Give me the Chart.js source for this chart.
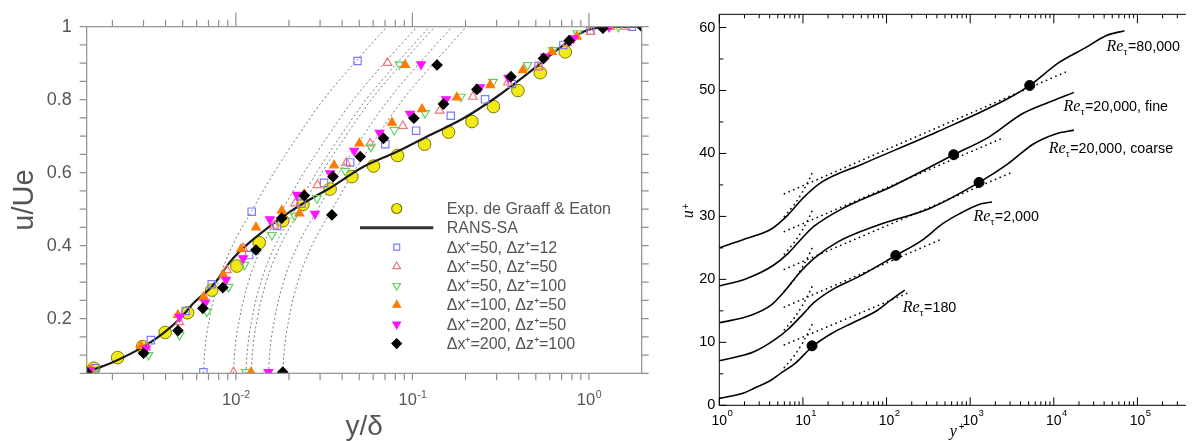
<!DOCTYPE html>
<html>
<head>
<meta charset="utf-8">
<script src="https://cdn.jsdelivr.net/npm/chart.js@4.4.1/dist/chart.umd.min.js"></script>
<style>
  html, body { margin: 0; padding: 0; background: #fff; }
  #wrap { position: relative; width: 1192px; height: 441px; overflow: hidden; }
  #left { position: absolute; left: 0; top: 0; }
  #right { position: absolute; left: 650px; top: 0; }
</style>
</head>
<body>
<div id="wrap">
  <canvas id="left" width="655" height="441"></canvas>
  <canvas id="right" width="542" height="441"></canvas>
</div>
<script>
// ---------- left panel: u/Ue against y/delta ----------
const expX = [0.00157, 0.00214, 0.00296, 0.00398, 0.00533, 0.00731, 0.01013, 0.01356, 0.01845, 0.024, 0.0342, 0.0454, 0.0602, 0.0824, 0.1172, 0.1603, 0.2174, 0.288, 0.396, 0.53, 0.734];
const expU = [0.064, 0.093, 0.123, 0.162, 0.216, 0.278, 0.344, 0.408, 0.468, 0.513, 0.555, 0.589, 0.618, 0.647, 0.678, 0.711, 0.740, 0.781, 0.825, 0.874, 0.931];

const ransX = [0.00143, 0.00198, 0.003, 0.00389, 0.00483, 0.00575, 0.00746, 0.00929, 0.01153, 0.015, 0.0203, 0.0275, 0.0342, 0.0528, 0.0817, 0.126, 0.195, 0.301, 0.465, 0.718, 0.931, 1.11, 2.0];
const ransU = [0.054, 0.079, 0.123, 0.16, 0.2, 0.242, 0.292, 0.356, 0.402, 0.447, 0.493, 0.532, 0.558, 0.616, 0.657, 0.703, 0.749, 0.808, 0.877, 0.95, 0.986, 0.997, 1.0];

const blueX = [0.0016, 0.0033, 0.0052, 0.0073, 0.0119, 0.0171, 0.0235, 0.0316, 0.0444, 0.0702, 0.105, 0.165, 0.258, 0.366, 0.518, 0.717, 1.02, 1.75, 0.00655, 0.0123, 0.0489];
const blueU = [0.064, 0.141, 0.221, 0.294, 0.374, 0.454, 0.515, 0.572, 0.628, 0.678, 0.715, 0.756, 0.801, 0.843, 0.892, 0.95, 0.989, 1.0, 0.053, 0.493, 0.906];

const redX = [0.00152, 0.0031, 0.0048, 0.0066, 0.0089, 0.011, 0.0165, 0.0217, 0.029, 0.0422, 0.0577, 0.0883, 0.1426, 0.22, 0.3475, 0.52, 0.75, 1.02, 1.61, 0.0097, 0.0182, 0.0723];
const redU = [0.06, 0.12, 0.19, 0.26, 0.333, 0.393, 0.455, 0.516, 0.566, 0.627, 0.68, 0.728, 0.77, 0.808, 0.847, 0.89, 0.955, 0.986, 1.0, 0.053, 0.48, 0.901];

const greenX = [0.00155, 0.0032, 0.0048, 0.00686, 0.0091, 0.0112, 0.016, 0.0288, 0.0416, 0.0582, 0.0789, 0.118, 0.188, 0.286, 0.449, 0.625, 0.861, 1.47, 0.0114, 0.0215, 0.0845];
const greenU = [0.05, 0.1, 0.155, 0.219, 0.287, 0.347, 0.429, 0.53, 0.605, 0.671, 0.717, 0.763, 0.808, 0.849, 0.895, 0.936, 0.982, 1.0, 0.053, 0.482, 0.897];

const orangeX = [0.00148, 0.0029, 0.0047, 0.00655, 0.0085, 0.0107, 0.013, 0.0182, 0.0244, 0.036, 0.0501, 0.0766, 0.1133, 0.1786, 0.276, 0.423, 0.617, 0.855, 1.32, 0.0122, 0.0229, 0.091];
const orangeU = [0.058, 0.125, 0.21, 0.258, 0.319, 0.39, 0.45, 0.496, 0.541, 0.62, 0.68, 0.737, 0.774, 0.806, 0.84, 0.881, 0.931, 0.973, 1.0, 0.053, 0.488, 0.895];

const magentaX = [0.00149, 0.0031, 0.0048, 0.0067, 0.0088, 0.011, 0.0156, 0.0222, 0.0342, 0.0468, 0.0652, 0.097, 0.155, 0.242, 0.35, 0.565, 0.818, 1.3, 0.0153, 0.0281, 0.112];
const magentaU = [0.059, 0.118, 0.205, 0.243, 0.306, 0.365, 0.472, 0.539, 0.598, 0.66, 0.709, 0.761, 0.801, 0.834, 0.86, 0.918, 0.968, 1.0, 0.053, 0.487, 0.897];

const blackX = [0.00143, 0.003, 0.0047, 0.0065, 0.00844, 0.013, 0.0182, 0.0244, 0.0355, 0.0506, 0.0686, 0.102, 0.15, 0.232, 0.362, 0.553, 0.773, 1.2, 2.0, 0.01845, 0.035, 0.138];
const blackU = [0.053, 0.105, 0.167, 0.228, 0.285, 0.388, 0.475, 0.537, 0.589, 0.644, 0.694, 0.749, 0.788, 0.828, 0.863, 0.913, 0.962, 0.996, 1.0, 0.053, 0.484, 0.895];

// dotted guide curves, one per grid, read at these u/Ue levels
const guideU = [0.05, 0.1, 0.2, 0.3, 0.4, 0.5, 0.6, 0.7, 0.8, 0.9, 1.0];
const guideBlue = [0.00655, 0.00664, 0.0071, 0.00796, 0.00957, 0.01247, 0.01644, 0.02244, 0.03133, 0.04688, 0.07178];
const guideRed = [0.00968, 0.00982, 0.0105, 0.01178, 0.01416, 0.01845, 0.02432, 0.03319, 0.04634, 0.06934, 0.1062];
const guideGreen = [0.0114, 0.01156, 0.01236, 0.01387, 0.01667, 0.02173, 0.02864, 0.03908, 0.05458, 0.08166, 0.125];
const guideOrange = [0.01222, 0.01239, 0.01324, 0.01486, 0.01786, 0.02328, 0.03069, 0.04188, 0.05848, 0.0875, 0.134];
const guideMagenta = [0.01531, 0.01552, 0.0166, 0.01862, 0.02239, 0.02917, 0.03846, 0.05248, 0.07328, 0.1096, 0.1679];
const guideBlack = [0.01845, 0.01871, 0.02, 0.02244, 0.02698, 0.03516, 0.04634, 0.06324, 0.08831, 0.1321, 0.2023];

const leftYTicks = [0.2, 0.4, 0.6, 0.8, 1];
const leftDecades = [-2, -1, 0];
const legendRows = ['Exp. de Graaff & Eaton', 'RANS-SA', 'Δx⁺=50, Δz⁺=12', 'Δx⁺=50, Δz⁺=50',
  'Δx⁺=50, Δz⁺=100', 'Δx⁺=100, Δz⁺=50', 'Δx⁺=200, Δz⁺=50', 'Δx⁺=200, Δz⁺=100'];

// ---------- right panel: u+ against y+ ----------
const re180Yp = [1, 2, 2.6, 4, 5.4, 8.2, 12.9, 22, 38, 78, 112, 165];
const re180Up = [1.1, 2.0, 2.7, 3.85, 5.07, 6.75, 9.3, 11.4, 13.0, 15.1, 16.7, 18.3];
const re2kYp = [1, 2.6, 4.7, 6.8, 10.2, 13.5, 22, 46, 129, 265, 465, 740, 1350, 1820];
const re2kUp = [7.07, 8.5, 10.5, 12.2, 14.6, 16.3, 18.3, 20.4, 23.8, 26.2, 28.8, 30.4, 32.0, 32.3];
const coarseYp = [1, 2.4, 4.15, 6.2, 8.9, 13.5, 26.5, 78, 333, 1277, 2800, 5700, 10500, 17400];
const coarseUp = [13.1, 14.3, 15.9, 18.3, 20.9, 23.3, 26.0, 28.6, 31.3, 35.4, 38.3, 41.5, 43.1, 43.7];
const fineYp = [1, 2.1, 4.4, 6.6, 10, 13.5, 27.5, 117, 635, 1670, 4200, 8600, 17400];
const fineUp = [18.95, 20.1, 22.2, 24.1, 26.7, 28.4, 31.0, 34.8, 39.8, 42.6, 46.3, 48.1, 49.7];
const re80kYp = [1, 2.1, 4.2, 6.6, 10, 16.6, 51, 400, 3100, 5150, 11700, 24000, 42000, 70000];
const re80kUp = [25.0, 26.5, 28.0, 30.2, 32.9, 35.4, 38.3, 43.4, 49.0, 50.8, 54.5, 56.8, 58.7, 59.5];

// dotted log-law lines (start, end) and near-wall lines
const lawYp = [[6, 185], [6, 437], [6, 3300], [6, 2400], [6, 13700]];
const lawUp = [[9.6, 17.9], [15.6, 26.3], [21.6, 37.1], [27.6, 42.4], [33.6, 52.9]];
const wallYp = [6, 8, 10, 12, 13.5];
const wallUp = [[6, 8, 10, 12, 13.5], [12, 14, 16, 18, 19.5], [18.1, 20.1, 22.1, 24.1, 25.6], [24, 26, 28, 30, 31.5], [30, 32, 34, 36, 37.5]];

// matching points (filled circles)
const dotYp = [12.85, 129, 1277, 635, 5150];
const dotUp = [9.45, 23.8, 35.4, 39.8, 50.8];

const rightYTicks = [0, 10, 20, 30, 40, 50, 60];
const rightDecades = [0, 1, 2, 3, 4, 5];
const reNotes = [
  { x: 42700, y: 56.3, text: '=80,000' },
  { x: 13090, y: 46.8, text: '=20,000, fine' },
  { x: 8710, y: 40.0, text: '=20,000, coarse' },
  { x: 1094, y: 29.2, text: '=2,000' },
  { x: 156, y: 14.8, text: '=180' }
];

// ---------- helpers ----------
const fam = '"Liberation Sans", Arial, sans-serif';
const serif = '"Liberation Serif", "Times New Roman", serif';
const grayText = '#555';
const axisGray = '#909090';
const expFill = '#f2ea18', expEdge = '#807a00';
const blueC = '#7b7bff', redC = '#ee7777', greenC = '#5cd65c', orangeC = '#ff7b00', magC = '#ff14ff';

const pts = (xs, ys) => xs.map((x, i) => ({ x: x, y: ys[i] }));

function guide(xs) {
  return { data: pts(xs, guideU), showLine: true, pointRadius: 0, borderColor: '#7a7a7a',
    borderWidth: 1, borderDash: [2, 2.5], cubicInterpolationMode: 'monotone', order: 20 };
}

function dns(xs, us, style, color, filled, rot, r, order) {
  return { data: pts(xs, us), showLine: false, pointStyle: style, pointRotation: rot, pointRadius: r,
    pointBackgroundColor: filled ? color : 'rgba(0,0,0,0)', pointBorderColor: color,
    pointBorderWidth: 1.2, order: order };
}

function marker(ctx, kind, x, y, r, fill, stroke) {
  ctx.beginPath();
  if (kind === 'circle') ctx.arc(x, y, r, 0, Math.PI * 2);
  else if (kind === 'rect') { const s = r * Math.SQRT1_2; ctx.rect(x - s, y - s, 2 * s, 2 * s); }
  else if (kind === 'rectRot') { ctx.moveTo(x, y - r); ctx.lineTo(x + r, y); ctx.lineTo(x, y + r); ctx.lineTo(x - r, y); ctx.closePath(); }
  else {
    const d = kind === 'triangle' ? -1 : 1;
    ctx.moveTo(x, y + d * r); ctx.lineTo(x + r * 0.866, y - d * r / 2); ctx.lineTo(x - r * 0.866, y - d * r / 2); ctx.closePath();
  }
  if (fill) { ctx.fillStyle = fill; ctx.fill(); }
  ctx.lineWidth = 1.2; ctx.strokeStyle = stroke; ctx.stroke();
}

function powerLabel(ctx, px, base, exp, big, small, raise, color, whole) {
  ctx.fillStyle = color; ctx.textAlign = 'left'; ctx.textBaseline = 'alphabetic';
  ctx.font = big + 'px ' + fam;
  const w1 = ctx.measureText('10').width;
  ctx.font = small + 'px ' + fam;
  const w2 = ctx.measureText(exp).width;
  const x0 = whole ? px - (w1 + w2) / 2 : px - w1 / 2;
  ctx.font = big + 'px ' + fam; ctx.fillText('10', x0, base);
  ctx.font = small + 'px ' + fam; ctx.fillText(exp, x0 + w1 + 0.5, base - raise);
}

const legendStyles = [
  { kind: 'circle', r: 5, fill: expFill, stroke: expEdge },
  { kind: 'line' },
  { kind: 'rect', r: 4.2, fill: null, stroke: blueC },
  { kind: 'triangle', r: 4.4, fill: null, stroke: redC },
  { kind: 'triangleDown', r: 4.4, fill: null, stroke: greenC },
  { kind: 'triangle', r: 4.4, fill: orangeC, stroke: orangeC },
  { kind: 'triangleDown', r: 4.4, fill: magC, stroke: magC },
  { kind: 'rectRot', r: 4.8, fill: '#000', stroke: '#000' }
];

const leftDeco = {
  id: 'leftDeco',
  afterDraw(chart) {
    const { ctx, chartArea: a, scales: { x, y } } = chart;
    ctx.save();
    ctx.strokeStyle = axisGray; ctx.lineWidth = 1.2;
    ctx.strokeRect(a.left, a.top, a.right - a.left, a.bottom - a.top);
    ctx.beginPath();
    for (let i = 1; i <= 20; i++) {
      const py = y.getPixelForValue(i * 0.05);
      ctx.moveTo(a.left - 7, py); ctx.lineTo(a.left, py);
      ctx.moveTo(a.right, py); ctx.lineTo(a.right + 7, py);
    }
    for (let n = -3; n <= 0; n++) {
      for (let k = 1; k <= 9; k++) {
        const v = k * Math.pow(10, n);
        if (v < x.min || v > x.max) continue;
        const px = x.getPixelForValue(v);
        ctx.moveTo(px, a.bottom); ctx.lineTo(px, a.bottom + 7);
        ctx.moveTo(px, a.top); ctx.lineTo(px, a.top - (k === 1 ? 14 : 7));
      }
    }
    ctx.stroke();
    leftDecades.forEach(n => {
      powerLabel(ctx, x.getPixelForValue(Math.pow(10, n)), 405, String(n), 16.5, 10.5, 7, grayText, true);
    });
    // legend
    const mx = 396.7, tx = 446.7;
    legendRows.forEach((t, i) => {
      const ly = 208.5 + i * 19.3;
      const s = legendStyles[i];
      if (s.kind === 'line') {
        ctx.beginPath(); ctx.moveTo(360, ly); ctx.lineTo(433.3, ly);
        ctx.strokeStyle = '#333'; ctx.lineWidth = 3; ctx.stroke();
      } else {
        marker(ctx, s.kind, mx, ly, s.r, s.fill, s.stroke);
      }
      ctx.fillStyle = grayText; ctx.font = '16px ' + fam;
      ctx.textAlign = 'left'; ctx.textBaseline = 'middle';
      ctx.fillText(t, tx, ly + 1);
    });
    ctx.restore();
  }
};

new Chart(document.getElementById('left'), {
  type: 'scatter',
  data: {
    datasets: [
      guide(guideBlue), guide(guideRed), guide(guideGreen),
      guide(guideOrange), guide(guideMagenta), guide(guideBlack),
      { label: 'RANS-SA', data: pts(ransX, ransU), showLine: true, pointRadius: 0, borderColor: '#1a1a1a',
        borderWidth: 2.2, cubicInterpolationMode: 'monotone', order: 9 },
      { label: 'Exp. de Graaff & Eaton', data: pts(expX, expU), showLine: false, pointStyle: 'circle',
        pointRadius: 6.3, pointBackgroundColor: expFill, pointBorderColor: expEdge, pointBorderWidth: 1, order: 10 },
      dns(blueX, blueU, 'rect', blueC, false, 0, 5.2, 6),
      dns(redX, redU, 'triangle', redC, false, 0, 5, 5),
      dns(greenX, greenU, 'triangle', greenC, false, 180, 5, 4),
      dns(orangeX, orangeU, 'triangle', orangeC, true, 0, 5, 3),
      dns(magentaX, magentaU, 'triangle', magC, true, 180, 5, 2),
      dns(blackX, blackU, 'rectRot', '#000', true, 0, 5, 1)
    ]
  },
  options: {
    responsive: false, animation: false, events: [],
    layout: { padding: { left: 0, top: 26.7, right: 13.3, bottom: 0 } },
    plugins: { legend: { display: false }, tooltip: { enabled: false } },
    scales: {
      x: {
        type: 'logarithmic', min: 0.00143, max: 1.99,
        grid: { display: false, drawTicks: false }, border: { display: false },
        ticks: { display: false },
        title: { display: true, text: 'y/δ', color: grayText, font: { family: fam, size: 28, lineHeight: 1 }, padding: { top: 0, bottom: 0 } },
        afterFit: s => { s.height = 67.7; }
      },
      y: {
        type: 'linear', min: 0.05, max: 1,
        grid: { display: false, drawTicks: false }, border: { display: false },
        afterBuildTicks: s => { s.ticks = leftYTicks.map(v => ({ value: v })); },
        ticks: { callback: v => (v === 1 ? '1' : v.toFixed(1)), color: grayText, font: { family: fam, size: 18 }, padding: 15 },
        title: { display: true, text: 'u/Ue', color: grayText, font: { family: fam, size: 29, lineHeight: 1 }, padding: { top: 10, bottom: 0 } },
        afterFit: s => { s.width = 86.7; }
      }
    }
  },
  plugins: [leftDeco]
});

// ---------- right chart ----------
const rightDeco = {
  id: 'rightDeco',
  afterDraw(chart) {
    const { ctx, chartArea: a, scales: { x, y } } = chart;
    ctx.save();
    ctx.strokeStyle = '#000'; ctx.lineWidth = 1;
    ctx.beginPath();
    ctx.moveTo(a.right, a.top); ctx.lineTo(a.left, a.top); ctx.lineTo(a.left, a.bottom); ctx.lineTo(a.right, a.bottom);
    for (let v = 0; v <= 60; v += 5) {
      const py = y.getPixelForValue(v);
      ctx.moveTo(a.left, py); ctx.lineTo(a.left + (v % 10 === 0 ? 7 : 4), py);
    }
    for (let n = 0; n <= 5; n++) {
      for (let k = 1; k <= 9; k++) {
        const v = k * Math.pow(10, n);
        if (v > x.max) continue;
        const px = x.getPixelForValue(v);
        ctx.moveTo(px, a.bottom); ctx.lineTo(px, a.bottom - (k === 1 ? 8 : 4));
        ctx.moveTo(px, a.top); ctx.lineTo(px, a.top + (k === 1 ? 9 : 4));
      }
    }
    ctx.stroke();
    rightDecades.forEach(n => {
      powerLabel(ctx, x.getPixelForValue(Math.pow(10, n)), 425, String(n), 14, 9.5, 9, '#000', false);
    });
    // axis titles
    ctx.fillStyle = '#000'; ctx.textAlign = 'left'; ctx.textBaseline = 'alphabetic';
    const cx = (a.left + a.right) / 2;
    ctx.font = 'italic 16px ' + serif; ctx.fillText('y', cx - 3, 436);
    ctx.font = '10px ' + fam; ctx.fillText('+', cx + 6, 430);
    ctx.save();
    ctx.translate(a.left - 26.8, (a.top + a.bottom) / 2 + 8.5);
    ctx.rotate(-Math.PI / 2);
    ctx.font = 'italic 16px ' + serif; ctx.fillText('u', 0, 0);
    ctx.font = '10px ' + fam; ctx.fillText('+', 9, -4);
    ctx.restore();
    // Re_tau labels
    reNotes.forEach(nt => {
      const px = x.getPixelForValue(nt.x), py = y.getPixelForValue(nt.y);
      ctx.font = 'italic 16px ' + serif; ctx.fillText('Re', px, py);
      let w = ctx.measureText('Re').width;
      ctx.font = '10px ' + serif; ctx.fillText('τ', px + w, py + 4);
      w += ctx.measureText('τ').width;
      ctx.font = '14.3px ' + fam; ctx.fillText(nt.text, px + w + 0.5, py);
    });
    ctx.restore();
  }
};

function solid(ys, us) {
  return { data: pts(ys, us), showLine: true, pointRadius: 0, borderColor: '#000', borderWidth: 1.6,
    cubicInterpolationMode: 'monotone', order: 2 };
}
function dots(ys, us) {
  return { data: pts(ys, us), showLine: true, pointRadius: 0, borderColor: '#000', borderWidth: 1.7,
    borderDash: [0.1, 5], borderCapStyle: 'round', cubicInterpolationMode: 'monotone', order: 3 };
}

const rightSets = [
  solid(re180Yp, re180Up), solid(re2kYp, re2kUp), solid(coarseYp, coarseUp),
  solid(fineYp, fineUp), solid(re80kYp, re80kUp)
];
lawYp.forEach((ys, i) => rightSets.push(dots(ys, lawUp[i])));
wallUp.forEach(us => rightSets.push(dots(wallYp, us)));
rightSets.push({ data: pts(dotYp, dotUp), showLine: false, pointStyle: 'circle', pointRadius: 5,
  pointBackgroundColor: '#000', pointBorderColor: '#000', pointBorderWidth: 1, order: 1 });

new Chart(document.getElementById('right'), {
  type: 'scatter',
  data: { datasets: rightSets },
  options: {
    responsive: false, animation: false, events: [],
    layout: { padding: { left: 0, top: 14.3, right: 0, bottom: 0 } },
    plugins: { legend: { display: false }, tooltip: { enabled: false } },
    scales: {
      x: {
        type: 'logarithmic', min: 1, max: 381000,
        grid: { display: false, drawTicks: false }, border: { display: false },
        ticks: { display: false },
        afterFit: s => { s.height = 35.7; }
      },
      y: {
        type: 'linear', min: 0, max: 62.1,
        grid: { display: false, drawTicks: false }, border: { display: false },
        afterBuildTicks: s => { s.ticks = rightYTicks.map(v => ({ value: v })); },
        ticks: { color: '#000', font: { family: fam, size: 14.5 }, padding: 4 },
        afterFit: s => { s.width = 69.3; }
      }
    }
  },
  plugins: [rightDeco]
});
</script>
</body>
</html>
